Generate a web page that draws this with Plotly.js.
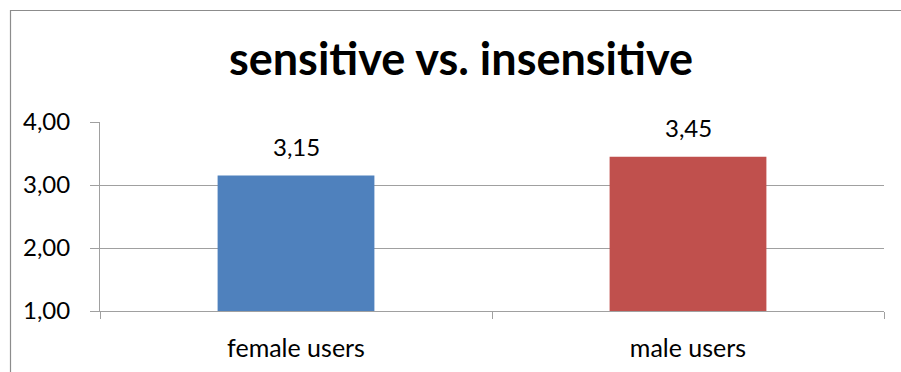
<!DOCTYPE html>
<html>
<head>
<meta charset="utf-8">
<script src="https://cdn.plot.ly/plotly-3.0.1.min.js"></script>
<style>
  html, body { margin: 0; padding: 0; background: #fff; }
  #chart { width: 901px; height: 372px; }
</style>
</head>
<body>
<div id="chart"></div>
<script>
// Mean rating per user group
const categories = ['female users', 'male users'];
const scores = [3.15, 3.45];
const barColors = ['#4F81BD', '#C0504D'];
const yTicks = [1, 2, 3, 4];

const W = 901, H = 372;
const margin = { l: 100, r: 17, t: 122, b: 61 };
const plotW = W - margin.l - margin.r;
const plotH = H - margin.t - margin.b;
// convert pixel positions to paper coordinates for the frame
const px2x = px => (px - margin.l) / plotW;
const px2y = py => (H - margin.b - py) / plotH;

const font = 'Lato, "Open Sans", sans-serif';

const trace = {
  type: 'bar',
  x: categories,
  y: scores,
  width: 0.4,
  marker: { color: barColors, line: { width: 0 } },
  hoverinfo: 'skip'
};

const annotations = categories.map((c, i) => ({
  x: c, y: scores[i], xref: 'x', yref: 'y',
  text: scores[i].toFixed(2).replace('.', ','),
  showarrow: false, yanchor: 'bottom', yshift: 13,
  font: { family: font, size: 24, color: '#000' }
}));

const layout = {
  width: W, height: H,
  margin: margin,
  paper_bgcolor: '#fff', plot_bgcolor: '#fff',
  separators: ', ',
  showlegend: false,
  bargap: 0.6,
  title: {
    text: '<b>sensitive vs. insensitive</b>',
    xref: 'container', yref: 'container',
    x: 461 / W, xanchor: 'center',
    y: 1 - 59 / H, yanchor: 'middle',
    font: { family: font, size: 45, color: '#000' }
  },
  xaxis: {
    type: 'category',
    showgrid: false,
    showline: true, linecolor: '#A0A0A0', linewidth: 1,
    ticks: 'outside', tickson: 'boundaries', ticklen: 7, tickcolor: '#A0A0A0',
    tickfont: { family: font, size: 25, color: '#000' },
    ticklabelstandoff: 15,
    fixedrange: true
  },
  yaxis: {
    range: [1, 4],
    tickvals: yTicks,
    tickformat: '.2f',
    showgrid: true, gridcolor: '#A0A0A0', gridwidth: 1,
    zeroline: false,
    showline: true, linecolor: '#A0A0A0', linewidth: 1,
    ticks: 'outside', ticklen: 9, tickcolor: '#A0A0A0',
    tickfont: { family: font, size: 24, color: '#000' },
    ticklabelstandoff: 15,
    fixedrange: true
  },
  shapes: [{
    type: 'rect', xref: 'paper', yref: 'paper',
    x0: px2x(10.5), x1: px2x(W + 20),
    y0: px2y(H + 20), y1: px2y(10.5),
    line: { color: '#8C8C8C', width: 1.2 },
    fillcolor: 'rgba(0,0,0,0)', layer: 'below'
  }],
  annotations: annotations
};

Plotly.newPlot('chart', [trace], layout, { displayModeBar: false, staticPlot: true });
</script>
</body>
</html>
